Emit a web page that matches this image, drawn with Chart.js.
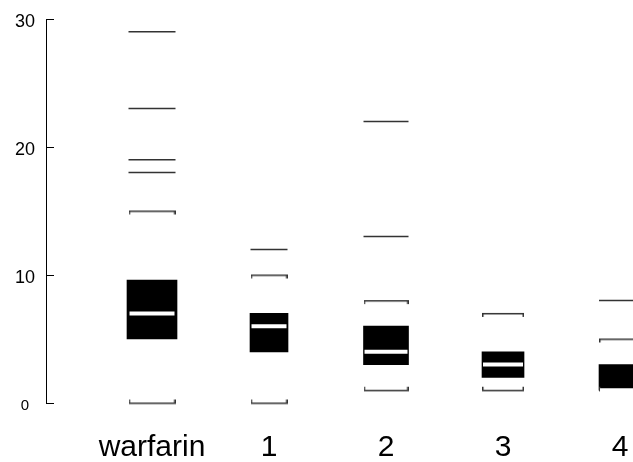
<!DOCTYPE html>
<html>
<head>
<meta charset="utf-8">
<script src="https://cdn.jsdelivr.net/npm/chart.js@4"></script>
<style>
html,body{margin:0;padding:0;background:#fff;}
#wrap{width:633px;height:462px;position:relative;}
</style>
</head>
<body>
<div id="wrap"><canvas id="c"></canvas></div>
<script>
// ---- data ----
const categories = ['warfarin', '1', '2', '3', '4'];
const q1Values = [5, 4, 3, 2, 1];
const q3Values = [9.6, 7, 6, 4, 3];
const medianValues = [7, 6, 4, 3, 1];
const upperWhisker = [15, 10, 8, 7, 5];
const lowerWhisker = [0, 0, 1, 1, 1];
const outlierValues = [[18, 19, 23, 29], [12], [13, 22], [], [8]];
const yTickValues = [0, 10, 20, 30];

// ---- styling (sizes, not data) ----
const FONT = '"Liberation Sans", Arial, Helvetica, sans-serif';
const BOX_WIDTHS = [50, 38, 45, 42, 42];
const CAP_WIDTHS = [47, 37, 45, 42, 42];
const LINE_COL = '#333';

function makeCap(w, up) {
  const c = document.createElement('canvas');
  const h = 11, mid = 5;
  c.width = w; c.height = h;
  const g = c.getContext('2d');
  g.fillStyle = LINE_COL;
  g.fillRect(0, mid, w, 1.5);
  if (up) {
    g.fillRect(0, mid - 3, 1.5, 4);
    g.fillRect(w - 1.5, mid - 3, 1.5, 4);
  } else {
    g.fillRect(0, mid, 1.5, 4);
    g.fillRect(w - 1.5, mid, 1.5, 4);
  }
  return c;
}
const capTopImgs = CAP_WIDTHS.map(w => makeCap(w, false));
const capBottomImgs = CAP_WIDTHS.map(w => makeCap(w, true));

const medianData = categories.map((c, i) => ({x: i, y: medianValues[i]}));
const upperData = categories.map((c, i) => ({x: i, y: upperWhisker[i]}));
const lowerData = categories.map((c, i) => ({x: i, y: lowerWhisker[i]}));
const outlierData = [];
outlierValues.forEach((arr, i) => arr.forEach(v => outlierData.push({x: i, y: v})));

const boxDatasets = categories.map((c, i) => ({
  type: 'bar',
  data: [{x: i, y: [q1Values[i], q3Values[i]]}],
  backgroundColor: '#000', borderWidth: 0,
  barThickness: BOX_WIDTHS[i], grouped: false, order: 10
}));

const innerTicks = {
  id: 'innerTicks',
  afterDraw(chart) {
    const ys = chart.scales.y;
    const ctx = chart.ctx;
    ctx.save();
    ctx.strokeStyle = '#000';
    ctx.lineWidth = 1;
    ys.ticks.forEach(t => {
      const py = Math.round(ys.getPixelForValue(t.value)) + 0.5;
      ctx.beginPath();
      ctx.moveTo(ys.right, py);
      ctx.lineTo(ys.right + 8, py);
      ctx.stroke();
    });
    ctx.restore();
  }
};

const pointDs = (data, style, radius, color, width, order) => ({
  type: 'line', data, showLine: false, order, clip: false,
  pointStyle: style, pointRadius: radius,
  pointBorderColor: color, pointBackgroundColor: color,
  pointBorderWidth: width, borderColor: color, backgroundColor: color
});

new Chart(document.getElementById('c'), {
  type: 'bar',
  data: {
    datasets: [
      ...boxDatasets,
      pointDs(medianData, 'line', (ctx) => CAP_WIDTHS[ctx.raw.x] / 2 - 1, '#fff', 4, 0),
      pointDs(upperData, (ctx) => capTopImgs[ctx.raw.x], 5, LINE_COL, 1, 1),
      pointDs(lowerData, (ctx) => capBottomImgs[ctx.raw.x], 5, LINE_COL, 1, 1),
      pointDs(outlierData, 'line', (ctx) => CAP_WIDTHS[ctx.raw.x] / 2, LINE_COL, 1.5, 1)
    ]
  },
  options: {
    responsive: true,
    maintainAspectRatio: false,
    animation: false,
    events: [],
    layout: {autoPadding: false, padding: {top: 19, left: 15, right: 0, bottom: 0}},
    plugins: {legend: {display: false}, tooltip: {enabled: false}},
    scales: {
      x: {
        type: 'linear',
        offset: false,
        min: -0.906, max: 4.111,
        grid: {display: false, drawTicks: false, tickLength: 0},
        border: {display: false},
        afterBuildTicks: (scale) => { scale.ticks = categories.map((c, i) => ({value: i})); },
        afterFit: (s) => { s.height = 59; s.paddingLeft = 0; s.paddingRight = 0; },
        ticks: {
          autoSkip: false, maxRotation: 0, minRotation: 0,
          padding: 30,
          color: '#000',
          font: {family: FONT, size: 30, lineHeight: 1},
          callback: (v) => categories[v]
        }
      },
      y: {
        type: 'linear',
        min: 0, max: 30,
        grid: {display: false, drawTicks: false, tickLength: 0},
        border: {display: true, color: '#000', width: 1},
        afterBuildTicks: (scale) => { scale.ticks = yTickValues.map(v => ({value: v})); },
        afterFit: (s) => { s.width = 31; s.paddingTop = 0; s.paddingBottom = 0; },
        ticks: {
          padding: 11,
          labelOffset: 3,
          crossAlign: 'center',
          color: '#000',
          font: (ctx) => ({family: FONT, size: (ctx.tick && ctx.tick.value === 0) ? 15 : 18, lineHeight: 1.2})
        }
      }
    }
  },
  plugins: [innerTicks]
});
</script>
</body>
</html>
